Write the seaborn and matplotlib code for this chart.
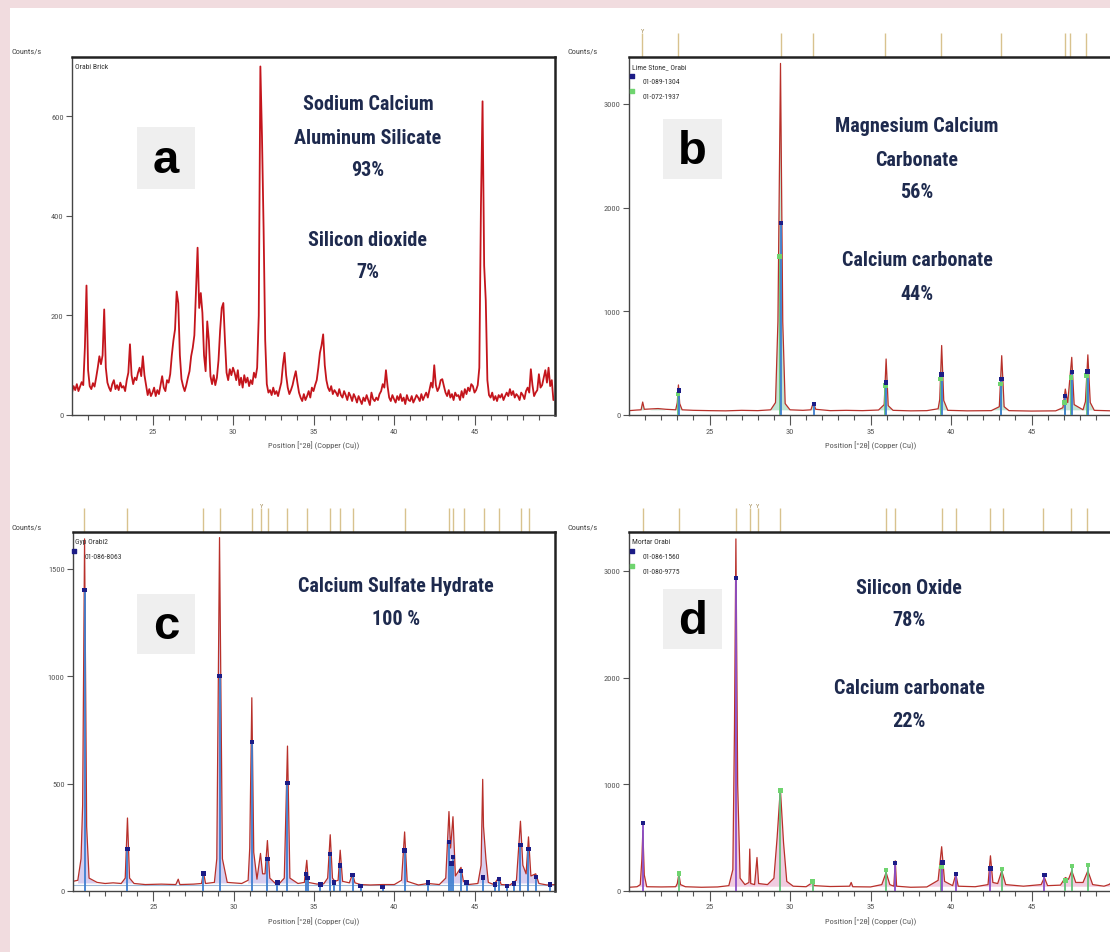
import numpy as np
import matplotlib
matplotlib.use("Agg")
import matplotlib.pyplot as plt
import seaborn as sns
from matplotlib import font_manager
from matplotlib.patches import Rectangle
from matplotlib.transforms import blended_transform_factory

W, H = 1110, 953

# ---- panel a: Orabi Brick, counts every 0.1 deg from 20.0 to 49.9 ----
a_x = np.round(np.arange(200, 500) / 10, 1)
a_y = [
    45, 58, 50, 62, 48, 57, 66, 60, 135, 260,
    90, 58, 52, 64, 57, 75, 95, 118, 102, 120,
    212, 95, 65, 55, 48, 62, 70, 52, 60, 50,
    65, 55, 58, 48, 70, 85, 142, 80, 62, 75,
    70, 85, 95, 78, 118, 80, 60, 40, 52, 38,
    45, 55, 38, 50, 42, 60, 78, 55, 48, 70,
    65, 82, 120, 150, 172, 248, 225, 120, 72, 58,
    48, 60, 75, 88, 118, 135, 160, 250, 336, 215,
    245, 205, 120, 88, 188, 150, 78, 62, 80, 60,
    75, 110, 170, 215, 225, 150, 85, 70, 92, 80,
    95, 85, 70, 90, 60, 75, 55, 80, 65, 75,
    58, 70, 62, 85, 75, 95, 200, 700, 560, 375,
    150, 62, 45, 50, 40, 55, 42, 48, 38, 52,
    65, 100, 125, 80, 55, 42, 50, 60, 75, 88,
    65, 45, 35, 28, 42, 30, 38, 48, 35, 55,
    48, 60, 70, 95, 125, 140, 162, 100, 70, 55,
    48, 58, 42, 50, 45, 38, 52, 40, 35, 48,
    40, 30, 45, 38, 28, 42, 35, 25, 38, 30,
    22, 35, 28, 40, 30, 20, 45, 32, 28, 35,
    30, 42, 48, 62, 55, 90, 58, 35, 28, 40,
    32, 25, 38, 30, 42, 28, 35, 22, 40, 30,
    28, 38, 25, 32, 40, 35, 28, 42, 30, 38,
    45, 35, 50, 65, 55, 100, 60, 48, 55, 70,
    72, 58, 45, 38, 50, 35, 42, 30, 45, 38,
    40, 30, 48, 35, 52, 42, 55, 48, 62, 58,
    45, 50, 60, 95, 420, 630, 300, 230, 70, 40,
    35, 45, 30, 38, 28, 40, 35, 42, 30, 38,
    45, 38, 52, 40, 48, 35, 42, 38, 30, 45,
    40, 32, 48, 55, 45, 92, 60, 38, 45, 50,
    82, 55, 60, 75, 90, 65, 95, 58, 70, 30,
]

# ---- panel b: Lime Stone ----
b_trace = [
    (20.0, 42), (20.5, 48), (20.75, 50), (20.85, 125), (20.95, 55), (21.3, 58),
    (21.8, 62), (22.3, 55), (22.9, 50), (23.0, 120), (23.07, 290), (23.15, 110),
    (23.3, 50), (24.0, 45), (25.0, 42), (26.0, 40), (27.0, 45), (28.0, 42),
    (28.8, 50), (29.1, 120), (29.25, 900), (29.41, 3390), (29.55, 900), (29.7, 110),
    (30.0, 50), (30.8, 45), (31.3, 50), (31.45, 120), (31.6, 55), (32.5, 42),
    (33.5, 45), (34.5, 42), (35.5, 48), (35.85, 100), (35.97, 540), (36.1, 90),
    (36.4, 45), (37.5, 40), (38.5, 42), (39.2, 60), (39.3, 150), (39.42, 670),
    (39.55, 140), (39.8, 45), (41.0, 40), (42.5, 42), (43.0, 80), (43.15, 572),
    (43.3, 80), (43.6, 42), (45.0, 38), (46.5, 40), (46.95, 70), (47.1, 250),
    (47.25, 120), (47.5, 556), (47.65, 100), (48.2, 50), (48.35, 130), (48.5, 580),
    (48.65, 120), (48.9, 45), (50.0, 40),
]
b_blue = [(23.1, 235), (29.43, 1852), (31.5, 106), (35.97, 315), (39.41, 389),
          (43.13, 347), (47.09, 186), (47.53, 412), (48.49, 418)]
b_green = [(23.05, 200), (29.35, 1530), (35.92, 283), (39.35, 347), (43.08, 300),
           (47.05, 120), (47.45, 363), (48.42, 380)]
b_refs = [20.83, 23.06, 29.41, 31.44, 35.93, 39.39, 43.11, 47.05, 47.42, 48.40]
b_refs_y = [20.83]

# ---- panel c: Gyp Orabi2 ----
c_trace = [
    (20.0, 45), (20.3, 50), (20.5, 150), (20.6, 400), (20.72, 1640), (20.85, 300),
    (21.0, 60), (21.5, 40), (22.0, 35), (22.5, 38), (23.0, 35), (23.25, 60),
    (23.39, 340), (23.52, 60), (23.8, 35), (24.5, 30), (25.5, 32), (26.4, 30),
    (26.55, 55), (26.65, 30), (27.5, 32), (28.0, 35), (28.12, 88), (28.25, 35),
    (28.8, 40), (28.95, 150), (29.12, 1646), (29.3, 150), (29.6, 40), (30.5, 35),
    (30.9, 50), (31.0, 200), (31.13, 900), (31.25, 180), (31.45, 55), (31.67, 175),
    (31.8, 80), (31.95, 80), (32.1, 235), (32.25, 60), (32.6, 35), (32.72, 45),
    (32.85, 35), (33.15, 60), (33.35, 675), (33.5, 60), (34.0, 35), (34.4, 40),
    (34.55, 143), (34.65, 40), (35.2, 32), (35.4, 35), (35.6, 33), (35.85, 60),
    (36.01, 262), (36.15, 60), (36.3, 45), (36.5, 50), (36.63, 190), (36.78, 45),
    (37.2, 38), (37.4, 80), (37.55, 38), (37.9, 30), (38.5, 28), (39.27, 30),
    (40.0, 30), (40.45, 50), (40.64, 275), (40.8, 45), (41.5, 28), (42.1, 35),
    (42.8, 30), (43.2, 60), (43.4, 370), (43.5, 200), (43.65, 346), (43.8, 70),
    (44.15, 110), (44.3, 45), (44.6, 30), (45.2, 35), (45.4, 120), (45.5, 520),
    (45.55, 300), (45.7, 150), (45.85, 40), (46.2, 30), (46.5, 63), (46.65, 30),
    (47.2, 28), (47.6, 50), (47.85, 325), (48.0, 120), (48.2, 80), (48.35, 252),
    (48.5, 70), (48.8, 80), (49.0, 35), (49.5, 28), (50.0, 30),
]
c_blue = [(20.72, 1402), (23.39, 197), (28.12, 82), (29.12, 1000), (31.13, 693),
          (32.1, 150), (32.72, 39), (33.35, 504), (34.5, 80), (34.6, 60), (35.4, 31),
          (36.01, 173), (36.25, 39), (36.63, 118), (37.4, 74), (37.9, 24), (39.27, 19),
          (40.64, 189), (42.1, 39), (43.4, 228), (43.55, 128), (43.65, 157), (44.15, 94),
          (44.5, 39), (45.5, 63), (46.25, 31), (46.5, 55), (47.0, 24), (47.45, 35),
          (47.85, 213), (48.35, 197), (48.8, 66), (49.7, 31)]
c_refs = [20.71, 23.39, 28.12, 29.12, 31.13, 31.73, 32.11, 33.35, 34.58, 36.01,
          36.63, 37.41, 40.64, 43.43, 43.65, 44.32, 45.55, 46.49, 47.89, 48.40]
c_refs_y = [31.73]

# ---- panel d: Mortar Orabi ----
d_trace = [
    (20.0, 35), (20.5, 40), (20.7, 60), (20.8, 300), (20.86, 566), (20.95, 150),
    (21.1, 40), (22.0, 38), (22.9, 40), (23.0, 70), (23.1, 160), (23.2, 60),
    (23.5, 40), (24.5, 35), (25.5, 38), (26.2, 50), (26.45, 200), (26.55, 1500),
    (26.64, 3300), (26.75, 1000), (26.9, 120), (27.2, 60), (27.45, 80), (27.5, 393),
    (27.56, 70), (27.8, 60), (27.95, 314), (28.05, 70), (28.6, 60), (29.0, 120),
    (29.2, 500), (29.4, 960), (29.6, 450), (29.8, 90), (30.2, 45), (31.0, 40),
    (31.3, 70), (31.4, 94), (31.5, 50), (32.5, 42), (33.7, 45), (33.8, 80),
    (33.9, 40), (35.0, 38), (35.7, 60), (35.97, 173), (36.2, 60), (36.45, 45),
    (36.54, 283), (36.62, 45), (37.5, 35), (38.5, 38), (39.2, 100), (39.42, 415),
    (39.6, 90), (40.1, 50), (40.3, 157), (40.45, 45), (41.5, 40), (42.3, 60),
    (42.45, 330), (42.6, 80), (42.9, 70), (43.15, 189), (43.4, 60), (44.5, 45),
    (45.6, 60), (45.8, 126), (46.0, 50), (46.8, 55), (47.1, 126), (47.3, 110),
    (47.5, 189), (47.75, 80), (48.2, 80), (48.5, 189), (48.8, 60), (49.5, 45),
    (49.8, 60), (50.0, 80),
]
d_blue = [(20.86, 638), (26.64, 2931), (36.54, 264), (39.46, 267), (40.3, 157),
          (42.45, 211), (45.8, 148)]
d_green = [(23.1, 164), (29.4, 943), (31.4, 88), (35.97, 198), (39.4, 226),
           (43.15, 204), (47.1, 100), (47.5, 236), (48.5, 242)]
d_refs = [20.89, 23.09, 26.65, 27.53, 27.99, 29.40, 35.99, 36.54, 39.42, 40.30,
          42.43, 43.20, 45.73, 47.44, 48.43]
d_refs_y = [27.53, 27.99]

x_major = [25, 30, 35, 40, 45]
x_minor = list(range(21, 50))
xlabel = "Position [°2θ] (Copper (Cu))"


def pick_font(cands):
    names = {f.name for f in font_manager.fontManager.ttflist}
    for c in cands:
        if c in names:
            return c
    return "DejaVu Sans"


sns.set_theme(style="white")
NARROW = pick_font(["Liberation Sans Narrow", "Roboto Condensed", "Open Sans"])
BOLDF = pick_font(["Liberation Sans", "Arial", "DejaVu Sans"])
plt.rcParams["font.family"] = [NARROW, "DejaVu Sans"]
ANN_SIZE = 14.5 if NARROW != "Open Sans" else 11.5

fig = plt.figure(figsize=(W / 100, H / 100), dpi=100, facecolor="#f1dcdf")
fig.patches.append(Rectangle((10 / W, 0), 1, 1 - 9 / H, transform=fig.transFigure,
                             facecolor="white", edgecolor="none", zorder=-5))


def px_axes(l, t, r, b):
    return fig.add_axes([l / W, 1 - b / H, (r - l) / W, (b - t) / H])


def ftext(x, y, s, **kw):
    fig.text(x / W, 1 - y / H, s, **kw)


def style_axes(ax, ylim, yticks, hpx):
    ax.set_xlim(20, 50)
    ax.set_ylim(*ylim)
    ax.set_xticks(x_major)
    ax.set_xticks(x_minor, minor=True)
    ax.set_yticks(yticks)
    ax.tick_params(which="both", bottom=True, left=True, direction="out",
                   colors="#555555", labelsize=6, width=0.8, pad=2)
    ax.tick_params(which="major", axis="x", length=7)
    ax.tick_params(which="minor", axis="x", length=3.5)
    ax.tick_params(axis="y", length=4)
    ax.set_xlabel(xlabel, fontsize=6, color="#555555", labelpad=5)
    ax.set_ylabel("")
    for side in ["top", "right"]:
        ax.spines[side].set_linewidth(1.8)
        ax.spines[side].set_color("#222222")
    for side in ["left", "bottom"]:
        ax.spines[side].set_linewidth(1.0)
        ax.spines[side].set_color("#444444")
    ax.set_facecolor("white")


def ref_ticks(ax, refs, refs_y, hpx):
    tr = blended_transform_factory(ax.transData, ax.transAxes)
    top = 1 + 24 / hpx
    ax.vlines(refs, 1.0, top, transform=tr, colors="#d8c28e", lw=1.0, clip_on=False)
    for r in refs_y:
        ax.text(r, top, "Y", transform=tr, fontsize=4.5, color="#a08850",
                ha="center", va="bottom", clip_on=False)


def sticks(ax, pairs, line_c, mark_c):
    xs = [p[0] for p in pairs]
    ys = [p[1] for p in pairs]
    ax.vlines(xs, 0, ys, colors=line_c, lw=1.3, zorder=3)
    sns.scatterplot(x=xs, y=ys, ax=ax, marker="s", s=10, color=mark_c,
                    edgecolor="none", zorder=4)


def trace(ax, pairs, fill_c=None, base=None):
    xs = [p[0] for p in pairs]
    ys = [p[1] for p in pairs]
    if fill_c is not None:
        ax.fill_between(xs, base, ys, where=[v > base + 15 for v in ys],
                        color=fill_c, alpha=0.55, lw=0, zorder=1, interpolate=True)
    sns.lineplot(x=xs, y=ys, ax=ax, color="#b8302a", lw=0.9, sort=False,
                 estimator=None, zorder=2)


def legend_text(ax, l, t, r, b, items):
    for (x, y, s, mc) in items:
        ax.text((x - l) / (r - l), (b - y) / (b - t), s, transform=ax.transAxes,
                fontsize=5.5, color="#333333", ha="left", va="center")
        if mc is not None:
            ax.scatter([(x - l - 11) / (r - l)], [(b - y + 5) / (b - t)], marker="s",
                       s=6, color=mc, transform=ax.transAxes, clip_on=False, zorder=5)


def letter_box(x0, y0, x1, y1, s):
    fig.patches.append(Rectangle((x0 / W, 1 - y1 / H), (x1 - x0) / W, (y1 - y0) / H,
                                 transform=fig.transFigure, facecolor="#efefef",
                                 edgecolor="none", zorder=5))
    ftext((x0 + x1) / 2, (y0 + y1) / 2 + 2, s, fontsize=34, fontweight="bold",
          family=BOLDF, color="black", ha="center", va="center", zorder=6)


def annotate(x, lines):
    for (y, s) in lines:
        ftext(x, y, s, fontsize=ANN_SIZE, fontweight="bold", color="#1e2a4e",
              ha="center", va="center", zorder=7)


# geometry in pixels: left, top, right, bottom
A = (72, 58, 555, 416)
B = (629, 58, 1112, 416)
C = (73, 533, 555, 892)
D = (629, 533, 1112, 892)

# panel a
ax = px_axes(*A)
sns.lineplot(x=a_x, y=a_y, ax=ax, color="#c4151c", lw=1.3, sort=False, estimator=None)
style_axes(ax, (0, 719), [0, 200, 400, 600], A[3] - A[1])
legend_text(ax, *A, [(75, 67, "Orabi Brick", None)])

# panel b
ax = px_axes(*B)
trace(ax, b_trace, "#8fd0b0", 45)
sticks(ax, b_green, "#63c27a", "#6fd46f")
sticks(ax, b_blue, "#3f7fd0", "#1c1c86")
style_axes(ax, (0, 3452), [0, 1000, 2000, 3000], B[3] - B[1])
ref_ticks(ax, b_refs, b_refs_y, B[3] - B[1])
legend_text(ax, *B, [(632, 67, "Lime Stone_ Orabi", None),
                     (643, 82, "01-089-1304", "#1c1c86"),
                     (643, 97, "01-072-1937", "#6fd46f")])

# panel c
ax = px_axes(*C)
ax.axhline(30, color="#9db8d6", lw=0.8, zorder=1)
trace(ax, c_trace, "#b9a6e2", 35)
sticks(ax, c_blue, "#3f7fd0", "#1c1c86")
style_axes(ax, (0, 1672), [0, 500, 1000, 1500], C[3] - C[1])
ref_ticks(ax, c_refs, c_refs_y, C[3] - C[1])
legend_text(ax, *C, [(75, 542, "Gyp Orabi2", None),
                     (85, 557, "01-086-8063", "#1c1c86")])

# panel d
ax = px_axes(*D)
trace(ax, d_trace, "#e6a2c8", 40)
sticks(ax, d_green, "#63c27a", "#6fd46f")
sticks(ax, d_blue, "#8a4fc8", "#1c1c86")
style_axes(ax, (0, 3365), [0, 1000, 2000, 3000], D[3] - D[1])
ref_ticks(ax, d_refs, d_refs_y, D[3] - D[1])
legend_text(ax, *D, [(632, 542, "Mortar Orabi", None),
                     (643, 557, "01-086-1560", "#1c1c86"),
                     (643, 572, "01-080-9775", "#6fd46f")])

for (x, y) in [(12, 52), (568, 52), (12, 527), (568, 527)]:
    ftext(x, y, "Counts/s", fontsize=6, color="#444444", ha="left", va="center")

letter_box(137, 128, 195, 190, "a")
letter_box(663, 120, 722, 180, "b")
letter_box(137, 595, 195, 655, "c")
letter_box(663, 590, 722, 650, "d")

annotate(368, [(104, "Sodium Calcium"), (138, "Aluminum Silicate"), (170, "93%"),
               (240, "Silicon dioxide"), (273, "7%")])
annotate(917, [(127, "Magnesium Calcium"), (160, "Carbonate"), (193, "56%"),
               (261, "Calcium carbonate"), (295, "44%")])
annotate(396, [(587, "Calcium Sulfate Hydrate"), (620, "100 %")])
annotate(909, [(588, "Silicon Oxide"), (621, "78%"), (689, "Calcium carbonate"),
               (722, "22%")])

fig.savefig("out.png", dpi=100, facecolor=fig.get_facecolor())
